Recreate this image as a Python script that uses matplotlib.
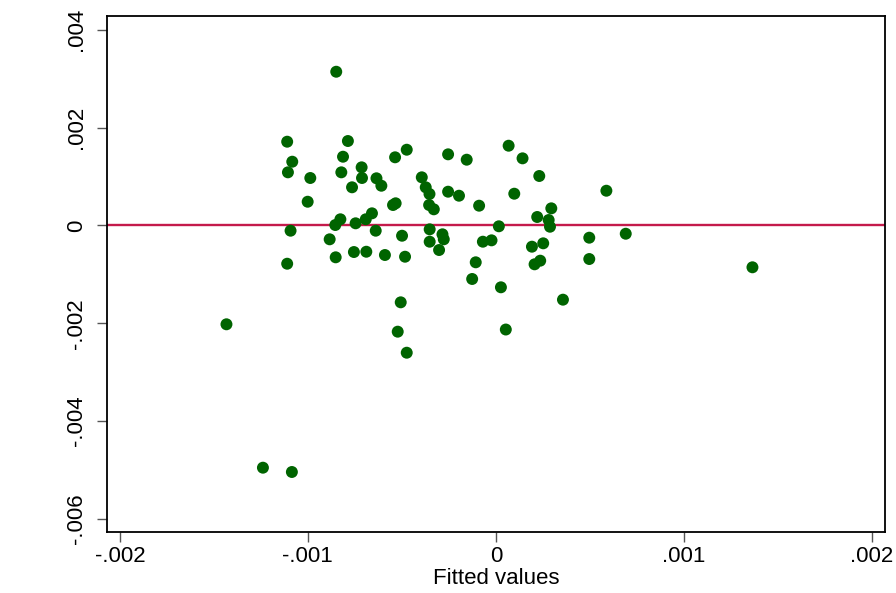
import matplotlib
matplotlib.use("Agg")
import matplotlib.pyplot as plt
import numpy as np

plt.rcParams['font.family'] = ['Liberation Sans', 'DejaVu Sans']

# values in thousandths (x 1e-3)
fitted = [
    -0.849, -1.110, -0.787, -1.083, -0.813, -1.106, -0.987, -0.822, -0.714, -0.712,
    -0.765, -0.635, -0.609, -0.536, -0.474, -0.394, -0.373, -0.353, -0.254, -0.254,
    -1.001, -0.547, -0.533, -0.355, -0.330, -0.659, -0.692, -0.827, -0.854, -0.746,
    -1.092, -0.639, -0.499, -0.352, -0.284, -0.277, -0.884, -0.352, -0.302, -0.755,
    -0.689, -0.852, -0.590, -0.483, -1.110, -0.506, -0.522, -0.474, -0.155, 0.068,
    0.142, 0.231, 0.098, -0.196, -0.089, 0.588, 0.295, 0.220, 0.281, 0.288,
    0.016, -0.069, -0.023, 0.192, 0.252, 0.497, 0.691, -0.107, 0.206, 0.236,
    0.497, -0.126, 0.027, 0.357, 0.053, 1.365, -1.433, -1.239, -1.085,
]
residuals = [
    3.141, 1.711, 1.725, 1.302, 1.404, 1.085, 0.969, 1.085, 1.187, 0.969,
    0.779, 0.963, 0.811, 1.392, 1.547, 0.983, 0.779, 0.642, 1.453, 0.689,
    0.484, 0.417, 0.452, 0.417, 0.329, 0.247, 0.125, 0.125, 0.008, 0.043,
    -0.108, -0.108, -0.211, -0.080, -0.182, -0.284, -0.284, -0.333, -0.503, -0.544,
    -0.538, -0.652, -0.605, -0.640, -0.783, -1.572, -2.172, -2.602, 1.343, 1.629,
    1.371, 1.010, 0.648, 0.607, 0.403, 0.709, 0.349, 0.172, 0.110, -0.027,
    -0.018, -0.333, -0.305, -0.435, -0.366, -0.251, -0.170, -0.754, -0.795, -0.721,
    -0.687, -1.095, -1.265, -1.518, -2.128, -0.856, -2.021, -4.952, -5.040,
]

x_ticks = [-0.002, -0.001, 0, 0.001, 0.002]
x_labels = ['-.002', '-.001', '0', '.001', '.002']
y_ticks = [-0.006, -0.004, -0.002, 0, 0.002, 0.004]
y_labels = ['-.006', '-.004', '-.002', '0', '.002', '.004']

fig = plt.figure(figsize=(8.96, 5.93), dpi=100)
ax = fig.add_axes([0.1191, 0.1034, 0.8686, 0.8701])

ax.axhline(0, color='#c41a4b', lw=1.7, zorder=1)
ax.scatter(np.array(fitted) * 1e-3, np.array(residuals) * 1e-3,
           s=74, color='#006400', edgecolors='none', zorder=3)

ax.set_xlim(-0.00207, 0.00207)
ax.set_ylim(-0.00626, 0.004286)

ax.set_xticks(x_ticks)
ax.set_xticklabels(x_labels)
ax.set_yticks(y_ticks)
ax.set_yticklabels(y_labels, rotation=90, va='center')

ax.tick_params(axis='both', length=7.2, width=1, color='#555555', labelsize=16)
ax.tick_params(axis='x', pad=3)
ax.tick_params(axis='y', pad=7)

for s in ax.spines.values():
    s.set_linewidth(1.3)
    s.set_color('black')

ax.set_xlabel('Fitted values', fontsize=16, labelpad=1)

fig.savefig('out.png', dpi=100)
